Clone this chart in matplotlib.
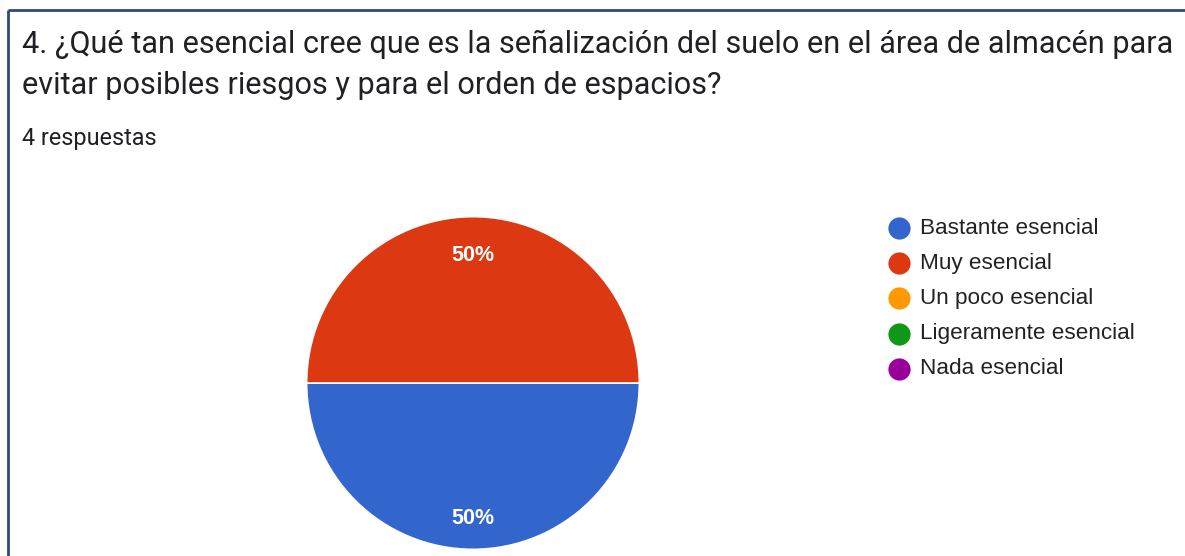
import matplotlib.pyplot as plt

plt.rcParams['font.family'] = ['Roboto', 'DejaVu Sans']

title = ('4. ¿Qué tan esencial cree que es la señalización del suelo en el área de almacén para\n'
         'evitar posibles riesgos y para el orden de espacios?')
subtitle = '4 respuestas'
categories = ['Bastante esencial', 'Muy esencial', 'Un poco esencial',
              'Ligeramente esencial', 'Nada esencial']
values = [2, 2, 0, 0, 0]
colors = ['#3366CC', '#DC3912', '#FF9900', '#109618', '#990099']

W, H = 1185, 556
fig = plt.figure(figsize=(W / 100, H / 100), dpi=100)
fig.patch.set_facecolor('white')

# overlay in pixel coordinates for frame, text and legend
bg = fig.add_axes([0, 0, 1, 1])
bg.set_xlim(0, W)
bg.set_ylim(H, 0)
bg.axis('off')
bg.plot([8, W], [10, 10], color='#2E4A7D', lw=2, solid_capstyle='butt')
bg.plot([8, 8], [10, H], color='#2E4A7D', lw=2, solid_capstyle='butt')

lines = title.split('\n')
bg.text(22, 44, lines[0], fontsize=22.1, color='#202124', va='center')
bg.text(22, 86, lines[1], fontsize=22.1, color='#202124', va='center')
bg.text(22, 139, subtitle, fontsize=16.8, color='#202124', va='center')

for i, (lab, col) in enumerate(zip(categories, colors)):
    y = 228 + i * 35.2
    bg.plot(899, y, marker='o', markersize=16, color=col, markeredgewidth=0)
    bg.text(920, y, lab, fontsize=16.2, color='#222222', va='center',
            family='Liberation Sans')

# pie
cx, cy, r = 473, 383, 168
ax = fig.add_axes([(cx - r) / W, (H - cy - r) / H, 2 * r / W, 2 * r / H])
nz = [(v, c) for v, c in zip(values, colors) if v > 0]
wedges, texts, autotexts = ax.pie([v for v, _ in nz], colors=[c for _, c in nz],
                                  startangle=180, counterclock=True,
                                  autopct='%1.0f%%', pctdistance=0.79,
                                  wedgeprops=dict(edgecolor='white', linewidth=1.2),
                                  textprops=dict(color='white', fontsize=15.5,
                                                 family='Liberation Sans',
                                                 fontweight='bold'))
for t in autotexts:
    x, y = t.get_position()
    t.set_position((x, y - 0.024))
ax.set_xlim(-1.01, 1.01)
ax.set_ylim(-1.01, 1.01)
ax.axis('off')

fig.savefig('out.png', dpi=100, facecolor='white')
